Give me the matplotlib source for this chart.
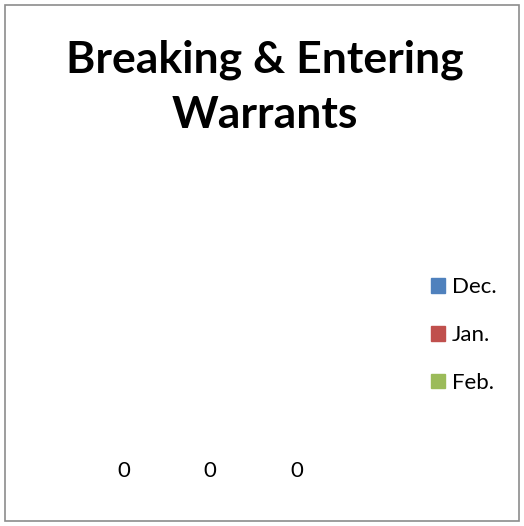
import matplotlib.pyplot as plt
from matplotlib.patches import Rectangle

# chart data (all months zero)
months = ['Dec.', 'Jan.', 'Feb.']
warrants = [0, 0, 0]
colors = ['#4f81bd', '#c0504d', '#9bbb59']

plt.rcParams['font.family'] = ['Lato', 'DejaVu Sans']

fig = plt.figure(figsize=(5.24, 5.26), dpi=100)

# outer chart border
fig.patches.append(Rectangle((5 / 524, 5 / 526), 514 / 524, 516 / 526,
                             transform=fig.transFigure, fill=False,
                             edgecolor='#8c8c8c', linewidth=1.2))

fig.text(265 / 524, 1 - 87 / 526, 'Breaking & Entering\nWarrants',
         ha='center', va='center', fontsize=32, fontweight='bold',
         linespacing=1.44)

# zero-height bars just to place the value labels
ax = fig.add_axes([80 / 524, 45 / 526, 260 / 524, 0.3])
x = range(len(months))
bars = ax.bar(x, warrants, color=colors, width=0.5)
ax.set_xlim(-0.5, 2.5)
ax.set_ylim(0, 1)
ax.bar_label(bars, labels=[str(v) for v in warrants], padding=0,
             fontsize=16)
ax.axis('off')

handles = [Rectangle((0, 0), 1, 1, color=c) for c in colors]
fig.legend(handles, months, loc='center left',
           bbox_to_anchor=(411 / 524, 1 - 335 / 526), frameon=False,
           fontsize=16, handlelength=0.65, handleheight=0.65,
           handletextpad=0.3, labelspacing=1.25)

fig.savefig('out.png', dpi=100)
